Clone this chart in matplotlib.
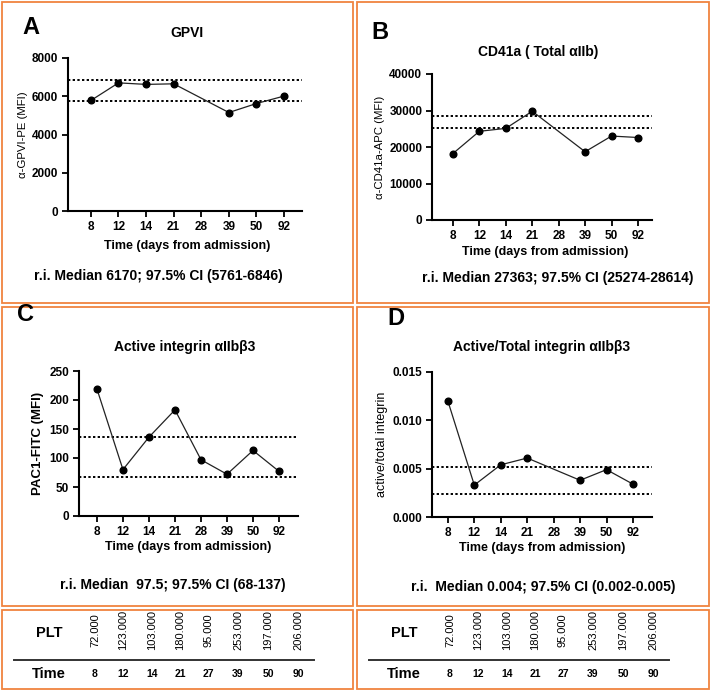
import matplotlib
matplotlib.use('Agg')
import matplotlib.pyplot as plt
from matplotlib.patches import Rectangle

plt.rcParams['font.family'] = ['Liberation Sans', 'DejaVu Sans']

W, H = 711, 691

# x categories (days from admission); day 28 has no measurement in A, B, D
days = ['8', '12', '14', '21', '28', '39', '50', '92']

gpvi_idx = [0, 1, 2, 3, 5, 6, 7]
gpvi = [5780, 6700, 6620, 6650, 5150, 5620, 6010]
gpvi_ci = [5761, 6846]

cd41_idx = [0, 1, 2, 3, 5, 6, 7]
cd41 = [18200, 24300, 25100, 29800, 18700, 23000, 22600]
cd41_ci = [25274, 28614]

pac1_idx = [0, 1, 2, 3, 4, 5, 6, 7]
pac1 = [219, 80, 136, 183, 97, 72, 113, 77]
pac1_ci = [68, 137]

ratio_idx = [0, 1, 2, 3, 5, 6, 7]
ratio = [0.0120, 0.0033, 0.0054, 0.0061, 0.0038, 0.0049, 0.0034]
ratio_ci = [0.0024, 0.0052]

# platelet count table
plt_counts = ['72.000', '123.000', '103.000', '180.000', '95.000', '253.000', '197.000', '206.000']
table_days = ['8', '12', '14', '21', '27', '39', '50', '90']

ORANGE = '#F0843F'

fig = plt.figure(figsize=(W / 100, H / 100), dpi=100)

# background axes in pixel coords for boxes and the table
bg = fig.add_axes([0, 0, 1, 1], zorder=0)
bg.set_xlim(0, W)
bg.set_ylim(H, 0)
bg.axis('off')

boxes = [(2, 2, 353, 303), (357, 2, 709, 303), (2, 307, 353, 606), (357, 307, 709, 606),
         (2, 610, 353, 689), (357, 610, 709, 689)]
for x0, y0, x1, y1 in boxes:
    bg.add_patch(Rectangle((x0, y0), x1 - x0, y1 - y0, fill=False, edgecolor=ORANGE, linewidth=1.3))


def rect(left, top, right, bottom):
    return [left / W, 1 - bottom / H, (right - left) / W, (bottom - top) / H]


def panel(r, xlim, idx, vals, ci, ylim, yticks, ytl, ylabel, ylab_kw):
    ax = fig.add_axes(rect(*r), zorder=2)
    ax.patch.set_alpha(0)
    ax.plot(idx, vals, color='#222222', linewidth=0.9, marker='o', markersize=4.8,
            markerfacecolor='black', markeredgecolor='black', zorder=3)
    for c in ci:
        ax.axhline(c, color='black', linestyle=(0, (1.2, 1.2)), linewidth=1.4, zorder=2)
    ax.set_xlim(*xlim)
    ax.set_ylim(*ylim)
    ax.set_xticks(range(len(days)))
    ax.set_xticklabels(days)
    ax.set_yticks(yticks)
    ax.set_yticklabels(ytl)
    for s in ['top', 'right']:
        ax.spines[s].set_visible(False)
    for s in ['left', 'bottom']:
        ax.spines[s].set_linewidth(1.5)
    ax.tick_params(width=1.3, length=4, labelsize=8.5, pad=3)
    for lab in ax.get_xticklabels() + ax.get_yticklabels():
        lab.set_fontweight('bold')
    ax.set_ylabel(ylabel, **ylab_kw)
    return ax


axA = panel((68, 58, 302, 211), (-0.83, 7.65), gpvi_idx, gpvi, gpvi_ci, (0, 8000),
            [0, 2000, 4000, 6000, 8000], ['0', '2000', '4000', '6000', '8000'],
            'α-GPVI-PE (MFI)', dict(fontsize=8.2, labelpad=3))
axB = panel((432, 74, 652, 220), (-0.79, 7.53), cd41_idx, cd41, cd41_ci, (0, 40000),
            [0, 10000, 20000, 30000, 40000], ['0', '10000', '20000', '30000', '40000'],
            'α-CD41a-APC (MFI)', dict(fontsize=8.2, labelpad=3))
axC = panel((79, 371, 298, 516), (-0.69, 7.73), pac1_idx, pac1, pac1_ci, (0, 250),
            [0, 50, 100, 150, 200, 250], ['0', '50', '100', '150', '200', '250'],
            'PAC1-FITC (MFI)', dict(fontsize=9.5, fontweight='bold', labelpad=4))
axD = panel((432, 372, 652, 517), (-0.6, 7.72), ratio_idx, ratio, ratio_ci, (0, 0.015),
            [0, 0.005, 0.010, 0.015], ['0.000', '0.005', '0.010', '0.015'],
            'active/total integrin', dict(fontsize=9, labelpad=3))

# panel texts in pixel coordinates
txt = dict(ha='center', va='center', fontweight='bold')
letters = [('A', 31, 27), ('B', 380, 32), ('C', 26, 314), ('D', 396, 318)]
for s, x, y in letters:
    bg.text(x, y, s, fontsize=17, **txt)

titles = [('GPVI', 187, 33), ('CD41a ( Total αIIb)', 538, 52),
          ('Active integrin αIIbβ3', 185, 347), ('Active/Total integrin αIIbβ3', 542, 347)]
for s, x, y in titles:
    bg.text(x, y, s, fontsize=10, **txt)

xlabels = [(187, 246), (545, 252), (188, 547), (542, 548)]
for x, y in xlabels:
    bg.text(x, y, 'Time (days from admission)', fontsize=9, **txt)

notes = [('r.i. Median 6170; 97.5% CI (5761-6846)', 158, 276),
         ('r.i. Median 27363; 97.5% CI (25274-28614)', 558, 278),
         ('r.i. Median  97.5; 97.5% CI (68-137)', 173, 585),
         ('r.i.  Median 0.004; 97.5% CI (0.002-0.005)', 543, 587)]
for s, x, y in notes:
    bg.text(x, y, s, fontsize=10, **txt)

# platelet tables
narrow = ['Liberation Sans Narrow', 'Liberation Sans', 'DejaVu Sans']
col_x = [95, 123, 152, 180, 208, 238, 268, 298]
for off in [0, 355]:
    bg.text(49 + off, 633, 'PLT', fontsize=10.5, **txt)
    bg.text(49 + off, 674, 'Time', fontsize=10.5, ha='center', va='center', fontweight='semibold')
    bg.plot([14 + off, 314 + off], [660, 660], color='#333333', linewidth=1.4)
    for cx, v, d in zip(col_x, plt_counts, table_days):
        bg.text(cx + off, 630, v, fontsize=8, rotation=90, ha='center', va='center', family=narrow)
        bg.text(cx + off, 674, d, fontsize=7.5, fontweight='bold', ha='center', va='center', family=narrow)

fig.savefig('out.png', dpi=100)
